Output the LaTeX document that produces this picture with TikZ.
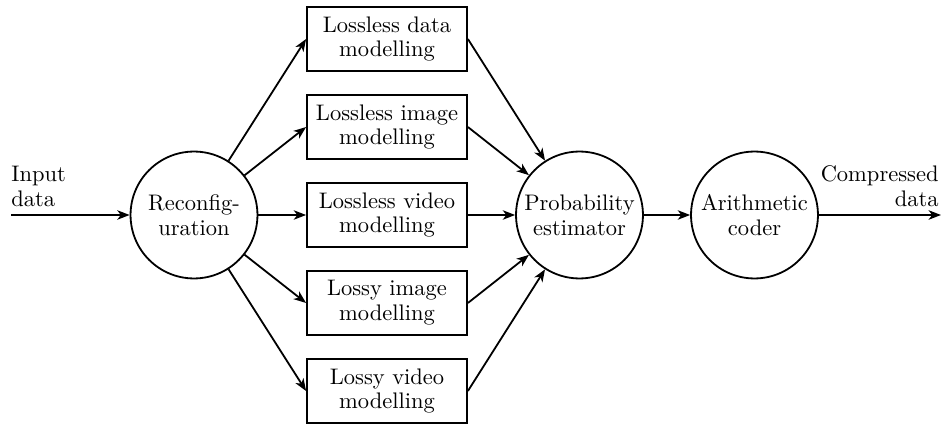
\documentclass[tikz,border=0pt]{standalone}
\usetikzlibrary{arrows.meta}
\begin{document}
\begin{tikzpicture}[x=0.4444pt,y=-0.4444pt,
  every node/.style={font=\fontsize{10}{11}\selectfont},
  circ/.style={draw,thick,circle,minimum size=56.4pt,inner sep=0pt,align=center},
  modbox/.style={draw,thick,rectangle,minimum width=71.1pt,minimum height=28.4pt,inner sep=1pt,align=center},
  flow/.style={thick,-{Stealth[length=5.5pt,width=4.2pt,inset=1.6pt]}}]
  \useasboundingbox (0,0) rectangle (941,424);

  % circles
  \node[circ] (rec) at (194,215) {Reconfig-\\uration};
  \node[circ] (pe)  at (579.5,215) {Probability\\estimator};
  \node[circ] (ac)  at (754.5,215) {Arithmetic\\coder};

  % modelling boxes
  \node[modbox] (m1) at (387,39)  {Lossless data\\modelling};
  \node[modbox] (m2) at (387,127) {Lossless image\\modelling};
  \node[modbox] (m3) at (387,215) {Lossless video\\modelling};
  \node[modbox] (m4) at (387,303) {Lossy image\\modelling};
  \node[modbox] (m5) at (387,391) {Lossy video\\modelling};

  % input / output
  \coordinate (in) at (11,215);
  \coordinate (out) at (941,215);
  \node[anchor=south west,align=left,inner sep=0pt] (inl) at (11,207) {Input\\data};
  \node[anchor=south east,align=right,inner sep=0pt] (outl) at (939,207) {Compressed\\data};

  % connectors
  \draw[flow] (in) -- (rec);
  \foreach \m in {m1,m2,m3,m4,m5}{
    \draw[flow] (rec) -- (\m.west);
    \draw[flow] (\m.east) -- (pe);
  }
  \draw[flow] (pe) -- (ac);
  \draw[flow] (ac) -- (out);
\end{tikzpicture}
\end{document}
